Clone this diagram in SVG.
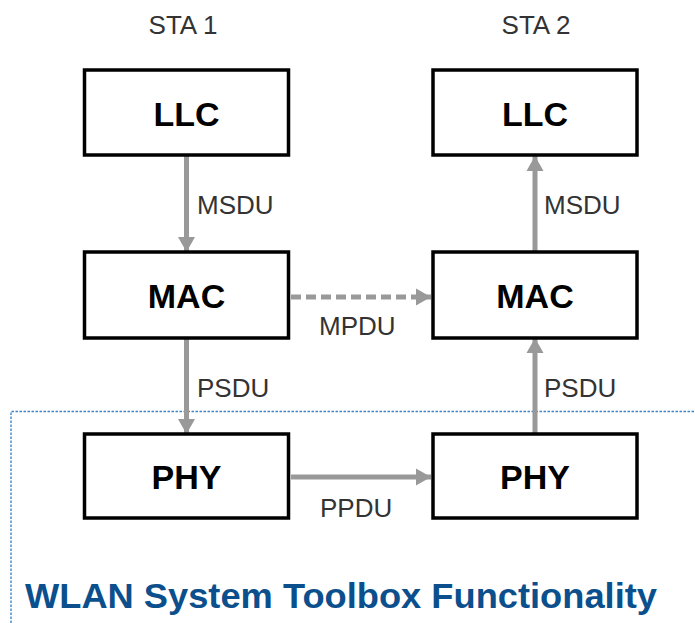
<svg xmlns="http://www.w3.org/2000/svg" width="695" height="623" viewBox="0 0 695 623">
<defs>
<style>
.box{fill:#fff;stroke:#000;stroke-width:3.5}
.nt{font-family:"Liberation Sans",Arial,sans-serif;font-weight:bold;font-size:34px;fill:#000;text-anchor:middle}
.lb{font-family:"Liberation Sans",Arial,sans-serif;font-size:26px;fill:#333}
.hd{font-family:"Liberation Sans",Arial,sans-serif;font-size:26px;fill:#333;text-anchor:middle}
.ar{stroke:#999;stroke-width:5;fill:none}
.title{font-family:"Liberation Sans",Arial,sans-serif;font-weight:bold;font-size:35px;fill:#0b4f8c}
</style>
<marker id="ah" markerUnits="userSpaceOnUse" markerWidth="16" markerHeight="18" refX="15" refY="8.5" orient="auto" viewBox="0 0 16 17">
<path d="M0,0 L15,8.5 L0,17 z" fill="#999"/>
</marker>
</defs>
<rect width="695" height="623" fill="#fff"/>
<g id="region">
<path d="M11,623 L11,411.5 L695,411.5" fill="none" stroke="#3a86c8" stroke-width="1.4" stroke-dasharray="2.5,1.5"/>
<text class="title" x="25" y="608" textLength="632" lengthAdjust="spacingAndGlyphs">WLAN System Toolbox Functionality</text>
</g>
<g id="headers">
<text class="hd" x="183" y="34">STA 1</text>
<text class="hd" x="536" y="34">STA 2</text>
</g>
<g id="connectors">
<line class="ar" x1="186.5" y1="156" x2="186.5" y2="252" marker-end="url(#ah)"/>
<line class="ar" x1="535" y1="252" x2="535" y2="156" marker-end="url(#ah)"/>
<line class="ar" x1="186.5" y1="338" x2="186.5" y2="434" marker-end="url(#ah)"/>
<line class="ar" x1="535" y1="434" x2="535" y2="338" marker-end="url(#ah)"/>
<line class="ar" x1="291" y1="297" x2="431" y2="297" stroke-dasharray="10,5" marker-end="url(#ah)"/>
<line class="ar" x1="291" y1="477" x2="431" y2="477" marker-end="url(#ah)"/>
<text class="lb" x="197" y="214">MSDU</text>
<text class="lb" x="544" y="214">MSDU</text>
<text class="lb" x="319" y="335">MPDU</text>
<text class="lb" x="197" y="397">PSDU</text>
<text class="lb" x="544" y="397">PSDU</text>
<text class="lb" x="320" y="517">PPDU</text>
</g>
<g id="llc1"><rect class="box" x="84.5" y="70" width="204" height="85"/><text class="nt" x="186.5" y="126">LLC</text></g>
<g id="llc2"><rect class="box" x="433" y="70" width="204" height="85"/><text class="nt" x="535" y="126">LLC</text></g>
<g id="mac1"><rect class="box" x="84.5" y="252" width="204" height="86"/><text class="nt" x="186.5" y="308">MAC</text></g>
<g id="mac2"><rect class="box" x="433" y="252" width="204" height="86"/><text class="nt" x="535" y="308">MAC</text></g>
<g id="phy1"><rect class="box" x="84.5" y="434" width="204" height="84"/><text class="nt" x="186.5" y="489">PHY</text></g>
<g id="phy2"><rect class="box" x="433" y="434" width="204" height="84"/><text class="nt" x="535" y="489">PHY</text></g>
</svg>
